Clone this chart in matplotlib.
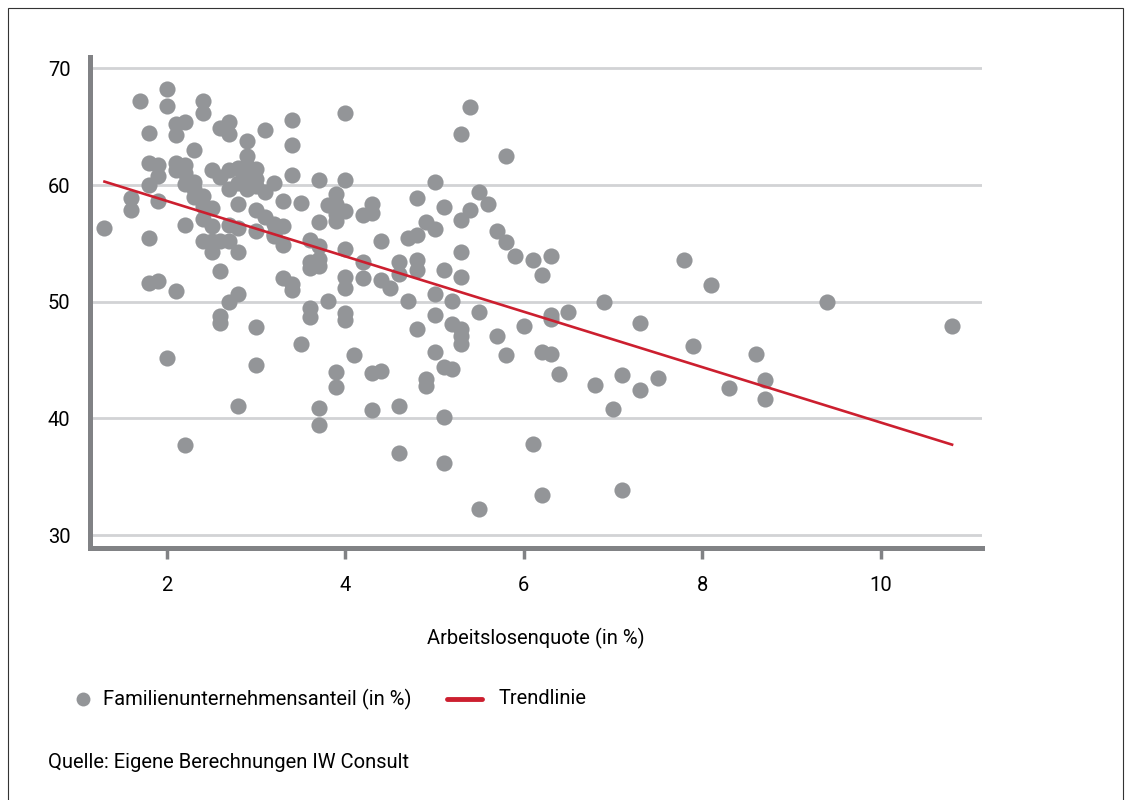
import matplotlib
matplotlib.use('Agg')
import matplotlib.pyplot as plt
from matplotlib import font_manager
from matplotlib.lines import Line2D

vorhanden = {f.name for f in font_manager.fontManager.ttflist}
schrift = 'Liberation Sans Narrow' if 'Liberation Sans Narrow' in vorhanden else 'Roboto'
plt.rcParams['font.family'] = [schrift, 'DejaVu Sans']

# Arbeitslosenquote (x) und Familienunternehmensanteil (y), je Region
arbeitslosenquote = (
    [1.3] + [1.6] * 2 + [1.7] + [1.8] * 5 + [1.9] * 4 + [2.0] * 3 + [2.1] * 5 + [2.2] * 6
    + [2.3] * 4 + [2.4] * 6 + [2.5] * 5 + [2.6] * 6 + [2.7] * 7 + [2.8] * 7 + [2.9] * 5
    + [3.0] * 7 + [3.1] * 3 + [3.2] * 4 + [3.3] * 4 + [3.4] * 5 + [3.5] * 2 + [3.6] * 5
    + [3.7] * 7 + [3.8] * 2 + [3.9] * 6 + [4.0] * 8 + [4.1] + [4.2] * 3 + [4.3] * 4
    + [4.4] * 3 + [4.5] + [4.6] * 4 + [4.7] * 2 + [4.8] * 5 + [4.9] * 3 + [5.0] * 5
    + [5.1] * 5 + [5.2] * 3 + [5.3] * 7 + [5.4] * 2 + [5.5] * 3 + [5.6] + [5.7] * 2
    + [5.8] * 3 + [5.9] + [6.0] + [6.1] * 2 + [6.2] * 3 + [6.3] * 4 + [6.4] + [6.5]
    + [6.8] + [6.9] + [7.0] + [7.1] * 2 + [7.3] * 2 + [7.5] + [7.8] + [7.9] + [8.1]
    + [8.3] + [8.6] + [8.7] * 2 + [9.4] + [10.8]
)
familienanteil = [
    56.3, 58.9, 57.9, 67.2, 64.5, 61.9, 60.0, 55.5, 51.6, 61.7, 60.8, 58.6, 51.8,
    68.2, 66.8, 45.2, 65.2, 64.3, 61.9, 61.3, 50.9, 65.4, 61.7, 61.0, 60.1, 56.6, 37.7,
    63.0, 60.3, 59.7, 59.0, 67.2, 66.2, 59.1, 58.2, 57.1, 55.2, 61.3, 58.0, 56.5, 55.2, 54.3,
    64.9, 60.7, 55.2, 52.6, 48.8, 48.2, 65.4, 64.4, 61.3, 59.7, 56.6, 55.2, 50.0,
    61.5, 60.2, 58.4, 56.3, 54.3, 50.7, 41.1, 63.8, 62.5, 61.6, 60.8, 59.7,
    61.4, 60.5, 59.9, 57.9, 56.1, 47.8, 44.6, 64.7, 59.4, 57.3, 60.2, 56.7, 55.8, 55.6,
    58.6, 56.5, 54.9, 52.0, 65.6, 63.4, 60.9, 51.5, 51.0, 58.5, 46.4,
    55.3, 53.4, 52.9, 49.5, 48.7, 60.4, 56.8, 54.8, 53.7, 53.1, 40.9, 39.4, 58.3, 50.1,
    59.2, 58.4, 57.5, 56.9, 44.0, 42.7, 66.2, 60.4, 57.8, 54.5, 52.1, 51.2, 49.0, 48.4,
    45.4, 57.4, 53.4, 52.0, 58.4, 57.6, 43.9, 40.7, 55.2, 51.9, 44.1, 51.2,
    53.4, 52.4, 41.1, 37.0, 55.5, 50.1, 58.9, 55.7, 53.6, 52.7, 47.7, 56.8, 43.4, 42.8,
    60.3, 56.2, 50.7, 48.9, 45.7, 58.1, 52.7, 44.4, 40.1, 36.2, 50.1, 48.1, 44.2,
    64.4, 57.0, 54.3, 52.1, 47.7, 47.1, 46.4, 66.7, 57.9, 59.4, 49.1, 32.2, 58.4,
    56.1, 47.1, 62.5, 55.1, 45.4, 53.9, 47.9, 53.6, 37.8, 52.3, 45.7, 33.4,
    53.9, 48.9, 48.5, 45.5, 43.8, 49.1, 42.9, 50.0, 40.8, 43.7, 33.9, 48.2, 42.4,
    43.5, 53.6, 46.2, 51.4, 42.6, 45.5, 43.3, 41.7, 50.0, 47.9,
]

trend_x = [1.3, 10.8]
trend_y = [60.3, 37.75]

x_ticks = [2, 4, 6, 8, 10]
y_ticks = [30, 40, 50, 60, 70]

grau = '#939598'
rot = '#cc1f2f'
achse = '#818285'
gr = 14.5

fig = plt.figure(figsize=(11.31, 8), dpi=100)
ax = fig.add_axes([0.0796, 0.315, 0.789, 0.614])

ax.set_xlim(1.138, 11.14)
ax.set_ylim(28.89, 71.0)
ax.set_yticks(y_ticks)
ax.set_xticks(x_ticks)
ax.grid(axis='y', color='#d2d3d5', linewidth=2, zorder=0)
ax.set_axisbelow(True)

ax.scatter(arbeitslosenquote, familienanteil, s=135, color=grau, linewidths=0, zorder=2)
ax.plot(trend_x, trend_y, color=rot, linewidth=1.9, zorder=3)

for s in ['top', 'right']:
    ax.spines[s].set_visible(False)
for s in ['left', 'bottom']:
    ax.spines[s].set_color(achse)
    ax.spines[s].set_linewidth(3.6)

ax.tick_params(axis='x', length=8, width=2.5, color=achse, pad=12, labelsize=gr)
ax.tick_params(axis='y', length=0, pad=14, labelsize=gr)

ax.set_xlabel('Arbeitslosenquote (in %)', fontsize=gr, labelpad=24)

# Legende von Hand
ly = 1 - 699 / 800
fig.add_artist(Line2D([83 / 1131], [ly], marker='o', markersize=10, color=grau,
                      markeredgewidth=0, transform=fig.transFigure))
fig.text(103 / 1131, ly, 'Familienunternehmensanteil (in %)', fontsize=gr, va='center')
fig.add_artist(Line2D([447 / 1131, 482 / 1131], [ly, ly], color=rot, linewidth=3.5,
                      solid_capstyle='round', transform=fig.transFigure))
fig.text(499 / 1131, ly, 'Trendlinie', fontsize=gr, va='center')

fig.text(48 / 1131, 1 - 763 / 800, 'Quelle: Eigene Berechnungen IW Consult', fontsize=gr, va='center')

# Rahmen
rahmen = plt.Rectangle((0.007, -0.01), 0.986, 1.0, transform=fig.transFigure,
                       fill=False, edgecolor='#333333', linewidth=0.8)
fig.patches.append(rahmen)

fig.savefig('out.png', dpi=100)
